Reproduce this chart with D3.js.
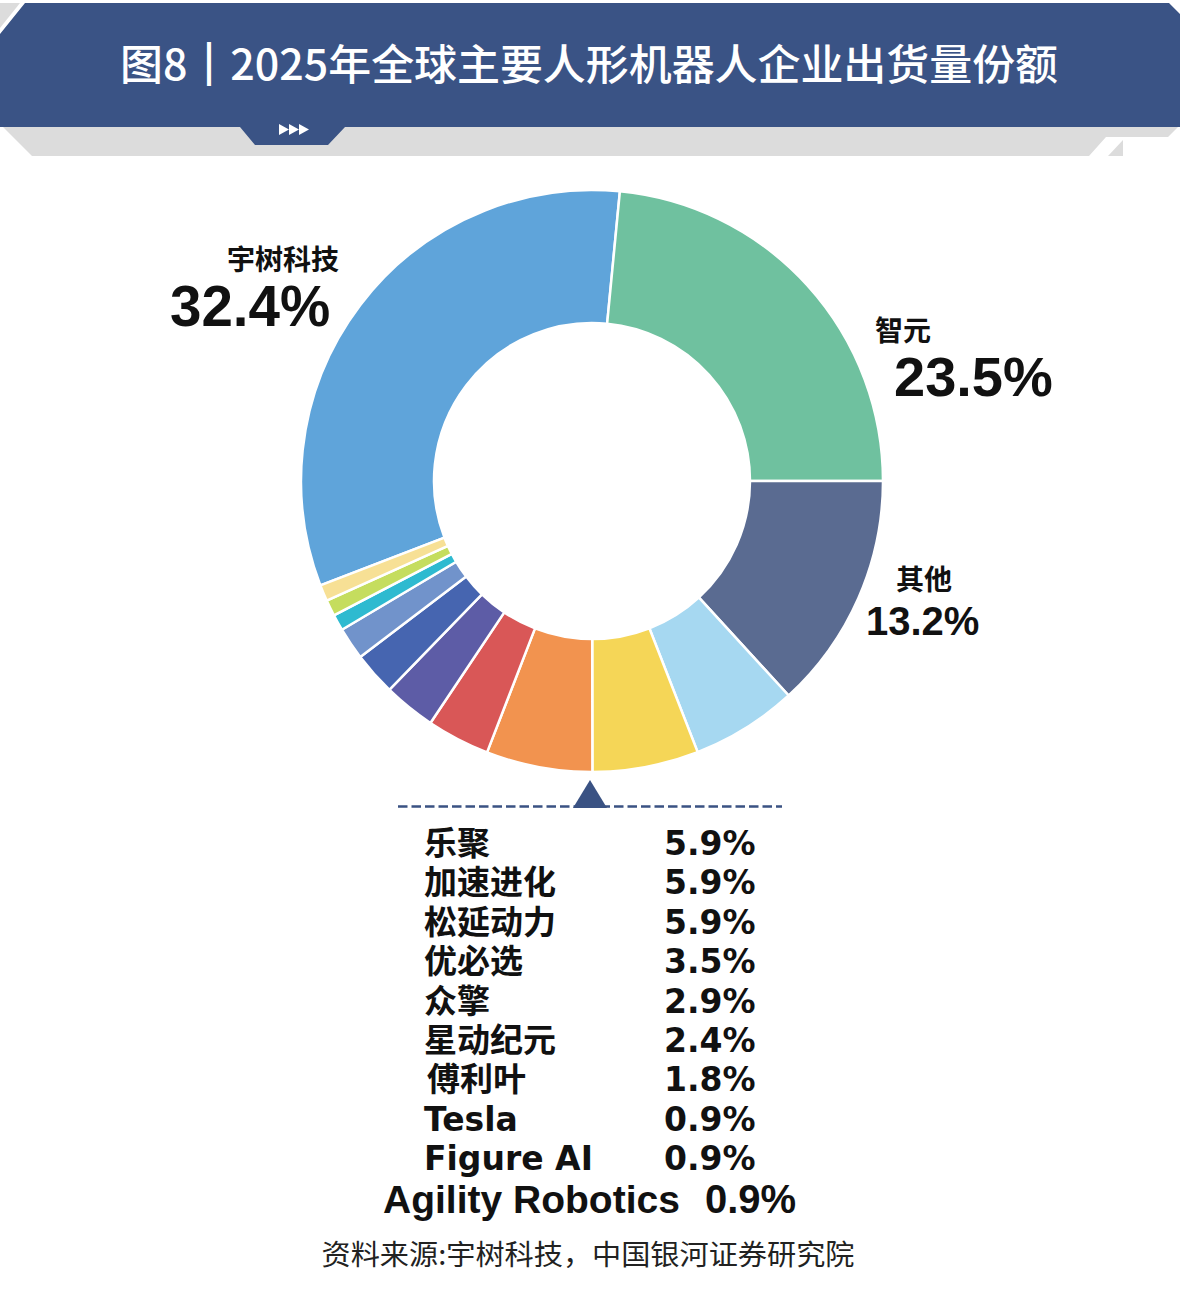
<!DOCTYPE html>
<html>
<head>
<meta charset="utf-8">
<script src="https://cdn.jsdelivr.net/npm/d3@7"></script>
<style>
  html, body { margin: 0; padding: 0; background: #ffffff; }
  svg { display: block; }
</style>
</head>
<body>
<svg id="chart" width="1180" height="1307"></svg>
<script>
// ---- data ----
const titleParts = ["图8", "｜", "2025年全球主要人形机器人企业出货量份额"];
const sourceText = "资料来源:宇树科技，中国银河证券研究院";
const names = ["宇树科技", "智元", "其他", "乐聚", "加速进化", "松延动力", "优必选", "众擎", "星动纪元", "傅利叶", "Tesla", "Figure AI", "Agility Robotics"];
const shares = [32.4, 23.5, 13.2, 5.9, 5.9, 5.9, 3.5, 2.9, 2.4, 1.8, 0.9, 0.9, 0.9];
const sliceColors = ["#5fa4da", "#6fc19f", "#5a6b91", "#a6d8f1", "#f5d657", "#f2934f", "#d95757", "#5d5ca6", "#4665b0", "#7193cb", "#2ebad0", "#c5dd5e", "#f7e095"];
const calloutNames = ["宇树科技", "智元", "其他"];

// ---- drawing ----
const svg = d3.select("#chart");
const fmt = v => d3.format(".1f")(v) + "%";

// header banner
const headerBlue = "#3a5385", headerGrey = "#dcdcdc";
const line = d3.line();
svg.append("path").attr("fill", headerGrey)
  .attr("d", line([[0,3],[20,3],[0,28]]) + "Z");
svg.append("path").attr("fill", headerGrey)
  .attr("d", line([[3,127],[1178,127],[1168,137],[1106,137],[1089,156],[32,156]]) + "Z");
svg.append("path").attr("fill", headerGrey)
  .attr("d", line([[1108,156],[1123,140],[1123,156]]) + "Z");
svg.append("path").attr("fill", headerBlue)
  .attr("d", line([[25,3],[1169,3],[1180,14],[1180,127],[345,127],[328,145],[255,145],[240,127],[0,127],[0,34]]) + "Z");
// arrows in tab
[279, 289, 299].forEach(x0 => {
  svg.append("path").attr("fill", "#ffffff")
    .attr("d", line([[x0,124],[x0+10,129.5],[x0,135]]) + "Z");
});
const title = svg.append("text")
  .attr("x", 120).attr("y", 80)
  .attr("textLength", 938).attr("lengthAdjust", "spacingAndGlyphs")
  .attr("fill", "#ffffff")
  .style("font-family", "'Noto Sans CJK SC', sans-serif")
  .style("font-weight", 500)
  .style("font-size", "42px");
titleParts.forEach((t, i) => {
  const ts = title.append("tspan").text(t);
  if (i === 1) ts.attr("stroke", "#ffffff").attr("stroke-width", 2);
});

// donut
const cx = 592, cy = 481, rOuter = 291, rInner = 158;
const total = d3.sum(shares);
const firstEnd = 5.5 * Math.PI / 180;             // boundary between first and second slice
const startA = firstEnd - shares[0] / total * 2 * Math.PI;
const pie = d3.pie().sort(null).value(d => d.v)
  .startAngle(startA).endAngle(startA + 2 * Math.PI);
const arc = d3.arc().innerRadius(rInner).outerRadius(rOuter);
const color = d3.scaleOrdinal().domain(names).range(sliceColors);
const data = names.map((n, i) => ({ n, v: shares[i] }));

svg.append("g").attr("transform", `translate(${cx},${cy})`)
  .selectAll("path").data(pie(data)).join("path")
  .attr("d", arc)
  .attr("fill", d => color(d.data.n))
  .attr("stroke", "#ffffff")
  .attr("stroke-width", 2.5)
  .attr("stroke-linejoin", "round");

// callouts for the three largest slices
const cjkBold = "'Noto Sans CJK SC', sans-serif";
const latinBold = "'Liberation Sans', Arial, sans-serif";
const callouts = [
  { nameX: 227, nameY: 270, valX: 170, valY: 326, valSize: 56.5 },
  { nameX: 875, nameY: 341, valX: 894, valY: 396, valSize: 56 },
  { nameX: 896, nameY: 590, valX: 866, valY: 635, valSize: 40 }
];
calloutNames.forEach((n, i) => {
  const c = callouts[i];
  const v = shares[names.indexOf(n)];
  svg.append("text").attr("x", c.nameX).attr("y", c.nameY)
    .attr("fill", "#111")
    .style("font-family", cjkBold).style("font-weight", 700).style("font-size", "28px")
    .text(n);
  svg.append("text").attr("x", c.valX).attr("y", c.valY)
    .attr("fill", "#111")
    .style("font-family", latinBold).style("font-weight", 700).style("font-size", c.valSize + "px")
    .text(fmt(v));
});

// pointer + dashed line
const pointColor = "#3a5283";
svg.append("line").attr("x1", 398).attr("x2", 782).attr("y1", 806.5).attr("y2", 806.5)
  .attr("stroke", pointColor).attr("stroke-width", 2.6).attr("stroke-dasharray", "9.5 4");
svg.append("path").attr("fill", pointColor)
  .attr("d", line([[590,780],[607,808],[573,808]]) + "Z");

// list of the smaller slices
const listNames = names.filter(n => !calloutNames.includes(n));
const rowY = d3.scaleLinear().domain([0, listNames.length - 2]).range([855, 1170]);
const listG = svg.append("g").attr("fill", "#111");
listNames.forEach((n, i) => {
  const v = shares[names.indexOf(n)];
  const last = i === listNames.length - 1;
  if (!last) {
    listG.append("text").attr("x", n === "傅利叶" ? 427 : 424).attr("y", rowY(i))
      .style("font-family", "'DejaVu Sans', 'Noto Sans CJK SC', sans-serif")
      .style("font-weight", 700).style("font-size", "33px")
      .text(n);
    listG.append("text").attr("x", 664).attr("y", rowY(i))
      .style("font-family", "'DejaVu Sans', sans-serif")
      .style("font-weight", 700).style("font-size", "33px")
      .text(fmt(v));
  } else {
    listG.append("text").attr("x", 383).attr("y", 1213)
      .style("font-family", latinBold)
      .style("font-weight", 700).style("font-size", "39px")
      .text(n);
    listG.append("text").attr("x", 705).attr("y", 1213)
      .style("font-family", latinBold)
      .style("font-weight", 700).style("font-size", "40px")
      .text(fmt(v));
  }
});

// source
svg.append("text").attr("x", 588).attr("y", 1265).attr("text-anchor", "middle")
  .attr("fill", "#222")
  .attr("textLength", 533).attr("lengthAdjust", "spacingAndGlyphs")
  .style("font-family", "'Noto Sans CJK SC', sans-serif")
  .style("font-weight", 400).style("font-size", "28px")
  .text(sourceText);
</script>
</body>
</html>
